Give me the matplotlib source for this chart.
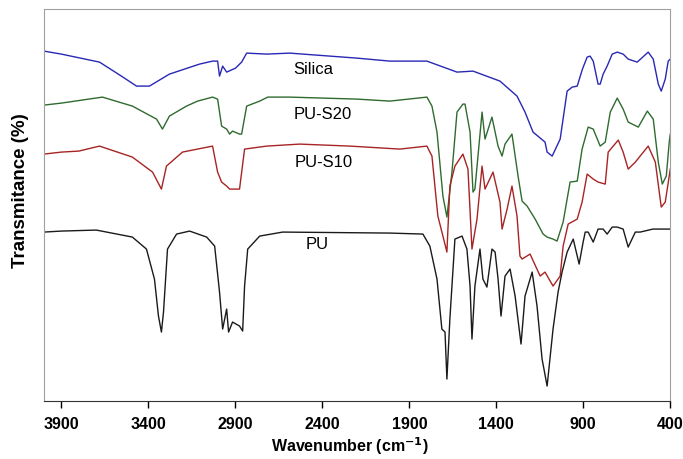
#!/usr/bin/env python3
import matplotlib
matplotlib.use("Agg")
import matplotlib.pyplot as plt

plt.rcParams["font.family"] = ["Liberation Sans", "DejaVu Sans"]

# FTIR spectra, transmittance in arbitrary units (spectra offset vertically)
silica_wn = [4000, 3900, 3681, 3555, 3468, 3394, 3279, 3106, 3031, 3002, 2991, 2973, 2950, 2899,
             2864, 2835, 2720, 2588, 2202, 2012, 1799, 1626, 1534, 1379, 1281, 1235, 1189, 1120,
             1108, 1079, 1033, 993, 964, 935, 905, 878, 861, 843, 815, 803, 786, 763, 734, 705,
             671, 642, 590, 527, 498, 469, 452, 429, 412, 400]
silica_t = [348, 345, 337, 323, 313, 313, 325, 335, 338, 338, 323, 333, 327, 331,
            337, 346, 345, 346, 341, 338, 338, 327, 328, 318, 303, 287, 267, 257,
            247, 243, 260, 308, 312, 313, 330, 342, 343, 338, 315, 315, 325, 333, 345, 347,
            345, 340, 337, 347, 340, 315, 308, 320, 338, 340]

s20_wn = [4000, 3900, 3664, 3492, 3353, 3319, 3279, 3181, 3117, 3031, 3002, 2979, 2950, 2933,
          2916, 2876, 2864, 2835, 2760, 2714, 2588, 2202, 2012, 1799, 1770, 1741, 1707, 1684,
          1655, 1626, 1592, 1580, 1551, 1534, 1523, 1482, 1465, 1425, 1390, 1367, 1350, 1310,
          1275, 1252, 1223, 1177, 1131, 1108, 1074, 1051, 1016, 976, 935, 907, 872, 843, 803,
          774, 745, 705, 671, 642, 584, 532, 498, 469, 446, 423, 406, 400]
s20_t = [294, 296, 302, 293, 280, 270, 283, 293, 298, 302, 300, 273, 270, 265,
         268, 265, 265, 293, 298, 302, 302, 300, 298, 302, 293, 267, 203, 182,
         227, 287, 295, 295, 267, 207, 210, 287, 260, 282, 253, 243, 255, 265,
         223, 198, 193, 180, 165, 162, 160, 158, 177, 217, 218, 250, 272, 270, 253,
         257, 287, 301, 290, 277, 272, 288, 280, 237, 215, 223, 257, 265]

s10_wn = [4000, 3900, 3800, 3681, 3492, 3376, 3325, 3296, 3204, 3031, 3002, 2979, 2950, 2933,
          2876, 2847, 2720, 2530, 2242, 1954, 1799, 1770, 1736, 1707, 1684, 1667, 1638, 1592,
          1563, 1540, 1511, 1482, 1465, 1419, 1379, 1367, 1338, 1310, 1281, 1264, 1252, 1206,
          1148, 1120, 1074, 1033, 1016, 987, 935, 907, 878, 843, 815, 774, 757, 699, 671, 642,
          601, 527, 486, 452, 429, 400]
s10_t = [245, 247, 248, 253, 242, 227, 210, 233, 247, 253, 227, 217, 213, 210,
         210, 250, 253, 255, 253, 250, 253, 243, 183, 163, 147, 213, 233, 245,
         230, 150, 180, 233, 210, 227, 197, 170, 190, 213, 183, 143, 140, 145,
         123, 127, 113, 123, 153, 175, 180, 197, 225, 220, 217, 215, 247, 259, 247, 230,
         237, 253, 237, 192, 197, 230]

pu_wn = [4000, 3900, 3699, 3492, 3411, 3365, 3342, 3325, 3313, 3290, 3238, 3163, 3065, 3019,
         2991, 2973, 2950, 2939, 2916, 2876, 2858, 2847, 2829, 2760, 2628, 2012, 1822, 1782,
         1741, 1713, 1695, 1684, 1667, 1638, 1597, 1569, 1551, 1540, 1523, 1494, 1477, 1454,
         1425, 1407, 1390, 1373, 1350, 1321, 1292, 1258, 1235, 1194, 1166, 1137, 1108, 1074,
         1045, 1022, 993, 958, 924, 901, 889, 872, 843, 815, 786, 763, 734, 705, 671, 642,
         601, 573, 500, 400]
pu_t = [167, 168, 169, 162, 150, 120, 83, 67, 87, 150, 165, 168, 162, 153,
        107, 70, 90, 67, 77, 73, 68, 113, 150, 163, 167, 166, 165, 153,
        120, 70, 67, 20, 80, 160, 163, 150, 113, 60, 113, 150, 120, 112,
        150, 147, 120, 83, 123, 130, 103, 55, 103, 127, 93, 40, 13, 70,
        107, 127, 147, 160, 135, 157, 167, 167, 157, 170, 170, 165, 172, 172, 170, 152,
        167, 167, 170, 170]

names = ["Silica", "PU-S20", "PU-S10", "PU"]
colors = ["#2828b4", "#2f6b2f", "#a82424", "#1a1a1a"]
label_x = [2565, 2565, 2560, 2496]
label_y = [331, 286, 238, 156]

fig = plt.figure(figsize=(6.83, 4.6), dpi=100)
ax = fig.add_axes([0.0644, 0.126, 0.917, 0.852])

series = [(silica_wn, silica_t), (s20_wn, s20_t), (s10_wn, s10_t), (pu_wn, pu_t)]
for (wn, t), c in zip(series, colors):
    ax.plot(wn, t, color=c, lw=1.0)

for name, x, y in zip(names, label_x, label_y):
    ax.text(x, y, name, fontsize=12, va="center", ha="left")

ax.set_xlim(4000, 400)
ax.set_ylim(-2, 390)
ax.set_xticks([3900, 3400, 2900, 2400, 1900, 1400, 900, 400])
ax.set_yticks([])
ax.tick_params(axis="x", direction="out", length=5, width=1, labelsize=11.5, pad=6)
for lbl in ax.get_xticklabels():
    lbl.set_fontweight("bold")
for s in ["top", "left", "right"]:
    ax.spines[s].set_color("#a0a0a0")
ax.spines["bottom"].set_color("#333333")

ax.set_xlabel("Wavenumber (cm$^{\\mathbf{-1}}$)", fontsize=11.5, fontweight="bold")
ax.xaxis.set_label_coords(0.489, -0.085)
ax.set_ylabel("Transmitance (%)", fontsize=13.5, fontweight="bold")
ax.yaxis.set_label_coords(-0.024, 0.54)

fig.savefig("out.png", dpi=100)
